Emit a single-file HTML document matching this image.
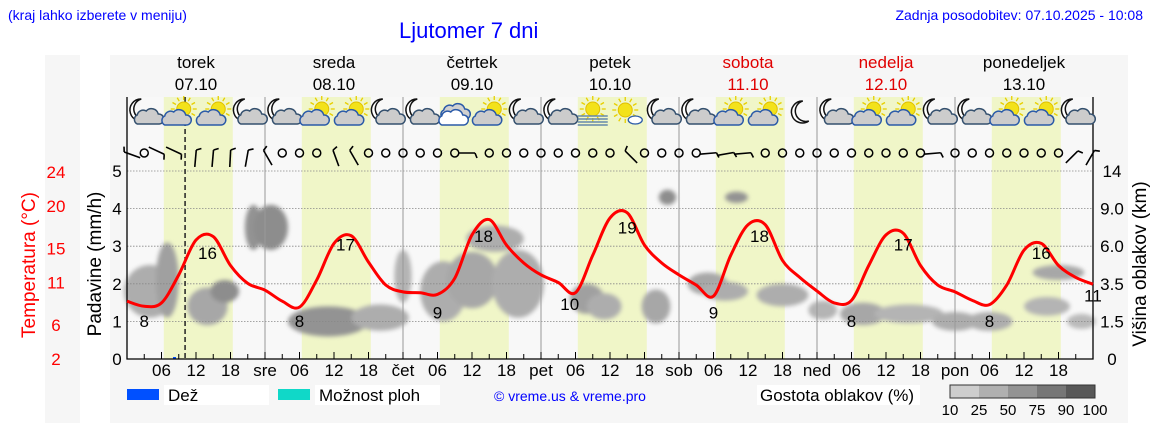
<!DOCTYPE html>
<html><head><meta charset="utf-8"><style>
body{margin:0;background:#fff;width:1152px;height:443px;overflow:hidden;font-family:"Liberation Sans","DejaVu Sans",sans-serif}
svg{display:block}
</style></head><body>
<svg id="c" width="1152" height="443" xmlns="http://www.w3.org/2000/svg">
<defs><filter id="bl" x="-50%" y="-50%" width="200%" height="200%"><feGaussianBlur stdDeviation="2.2"/></filter></defs>
<rect x="45" y="55" width="35" height="368" fill="#f6f6f6"/>
<rect x="110" y="55" width="1018" height="368" fill="#f6f6f6"/>
<text x="8" y="20" font-size="14" fill="#0000ff">(kraj lahko izberete v meniju)</text>
<text x="399" y="38" font-size="22" fill="#0000ff">Ljutomer 7 dni</text>
<text x="1143" y="20" font-size="14" fill="#0000ff" text-anchor="end">Zadnja posodobitev: 07.10.2025 - 10:08</text>
<g id="g"></g>
</svg>
<script>
const dayNames=["torek","sreda","četrtek","petek","sobota","nedelja","ponedeljek"];
const dayDates=["07.10","08.10","09.10","10.10","11.10","12.10","13.10"];
const dayAbbr=["","sre","čet","pet","sob","ned","pon"];
const weekend=[false,false,false,false,true,true,false];
const tempHours=[0,3,6,9,12,15,18,21,24,27,30,33,36,39,42,45,48,51,54,57,60,63,66,69,72,75,78,81,84,87,90,93,96,99,102,105,108,111,114,117,120,123,126,129,132,135,138,141,144,147,150,153,156,159,162,165,168];
const tempValues=[8.8,8.2,8.6,11.9,16,16.4,13,10.9,10.1,8.8,8.1,11.3,15.6,16.5,13.4,10.7,9.9,9.8,9.6,11.5,16.6,18.4,15.4,13.3,11.9,11,9.8,14.2,18.6,19.2,15.4,13.3,11.9,10.7,9.4,14.2,17.8,17.8,13.6,11.6,10,8.6,8.9,13,16.6,16.8,13,10.7,9.9,8.9,8.4,10.7,14.8,15.6,13,11.6,10.8];
const labelHours=[3,14,30,38,54,62,77,87,102,110,126,135,150,159,168];
const labelValues=[8,16,8,17,9,18,10,19,9,18,8,17,8,16,11];
const iconTypes=["nc","sc","sc","nc","nc","sc","sc","nc","nc","cw","sc","nc","nc","fog","ss","nc","nc","sc","sc","m","nc","sc","sc","nc","nc","sc","sc","nc"];
const windAngles=[-70,null,115,115,5,5,3,10,-30,null,null,null,-20,-30,null,null,null,null,null,null,90,null,null,null,null,null,null,null,null,-45,null,null,null,null,85,80,85,null,null,null,null,null,null,null,null,null,null,85,null,null,null,null,null,null,null,45,30];
// clouds: hour, mm center, hour width, mm height, density %
const cloudH=[4,7,14,17,22,25,35,44,48,55,60,64,68,80,83,92,94,101,104,106,114,121,128,136,144,150,160,162,166];
const cloudMM=[1.8,2.1,1.4,1.8,3.5,3.5,1.0,1.1,2.2,1.8,2.1,3.2,2.0,1.6,1.4,1.4,4.3,2.0,1.8,4.3,1.7,1.3,1.2,1.2,1.0,1.0,1.4,2.3,1.0];
const cloudW=[9,4,7,5,3,6,14,10,3,8,9,10,9,6,6,5,3,7,8,4,9,5,8,12,8,8,8,9,5];
const cloudHt=[1.4,2.0,1.0,0.6,1.2,1.2,0.8,0.7,1.4,1.6,1.5,0.7,1.8,0.8,0.7,0.9,0.4,0.6,0.5,0.3,0.6,0.5,0.6,0.5,0.5,0.5,0.5,0.4,0.4];
const cloudD=[40,50,45,65,60,65,60,40,35,40,45,40,40,50,40,45,65,45,40,60,40,35,45,35,40,40,35,45,30];

const X0=127,X1=1093,YT=97,YB=359,PH=5.75;
const x=h=>X0+h*PH;
const ymm=v=>YB-v*37.6;
const yT=t=>YB-(t-2)*8.5;
const g=document.getElementById('g');
const NS='http://www.w3.org/2000/svg';
function mk(tag,at,parent){const e=document.createElementNS(NS,tag);for(const k in at)e.setAttribute(k,at[k]);(parent||g).appendChild(e);return e;}

const bg=mk('rect',{x:X0,y:YT,width:X1-X0,height:YB-YT,fill:'#f8f8f8'});


for(let d=0;d<7;d++){
  const b=mk('rect',{x:x(d*24+6.4),y:YT,width:12*PH,height:YB-YT,fill:'#f0f6c8'});
  
  
}
const cg=mk('g',{filter:'url(#bl)'});
for(let i=0;i<cloudH.length;i++){
  const v=Math.round(225-cloudD[i]*1.3);
  const e=mk('ellipse',{cx:x(cloudH[i]),cy:ymm(cloudMM[i]),rx:cloudW[i]*PH/2,ry:cloudHt[i]*37.6/2,fill:`rgb(${v},${v},${v})`},cg);
  
  
}
for(let v=1;v<=5;v++){
  const l=mk('line',{x1:X0,x2:X1,y1:ymm(v),y2:ymm(v),stroke:'#888','stroke-width':0.8,'stroke-dasharray':'1.5,1.5'});
  
  
}
for(let d=1;d<7;d++){
  const l=mk('line',{x1:x(d*24),x2:x(d*24),y1:YT,y2:YB,stroke:'#999','stroke-width':1});
  
  
}
const now=mk('line',{x1:x(10.1),x2:x(10.1),y1:YT,y2:YB,stroke:'#222','stroke-width':1.5,'stroke-dasharray':'5,3'});


const rain=mk('rect',{x:x(8),y:YB-2,width:3,height:2,fill:'#0050ff'});


const fr=mk('path',{d:`M${X0} ${YT}V${YB}H${X1}V${YT}`,fill:'none',stroke:'#000','stroke-width':1.3});


for(let h=3;h<168;h+=3){
  const t=mk('line',{x1:x(h),x2:x(h),y1:YB,y2:YB-(h%6==0?7:5),stroke:'#000','stroke-width':1});
  
  
}
for(let d=0;d<7;d++){
  const labs=[[0,dayAbbr[d]],[6,'06'],[12,'12'],[18,'18']];
  for(const [h,s] of labs){ if(!s)continue;
    const t=mk('text',{x:x(d*24+h),y:376,'font-size':17,'text-anchor':'middle',fill:'#000'});t.textContent=s;
    
    
  }
  const c=x(d*24+12);
  const n=mk('text',{x:c,y:68,'font-size':17,'text-anchor':'middle',fill:weekend[d]?'#e00000':'#000'});n.textContent=dayNames[d];
  
  
  const dt=mk('text',{x:c,y:90,'font-size':17,'text-anchor':'middle',fill:weekend[d]?'#e00000':'#000'});dt.textContent=dayDates[d];
  
  
}
for(let v=0;v<=5;v++){
  const t=mk('text',{x:117,y:ymm(v)+6,'font-size':17,'text-anchor':'middle',fill:'#000'});t.textContent=v;
  
  
}
const ya=mk('text',{x:0,y:0,'font-size':19,'text-anchor':'middle',transform:'translate(101,264) rotate(-90)'});ya.textContent='Padavine (mm/h)';


const tTicks=[2,6,11,15,20,24];
for(const t of tTicks){
  const e=mk('text',{x:56,y:yT(t)+6,'font-size':17,'text-anchor':'middle',fill:'#ff0000'});e.textContent=t;
  
  
}
const ta=mk('text',{x:0,y:0,'font-size':19,'text-anchor':'middle',fill:'#ff0000',transform:'translate(35,265) rotate(-90)'});ta.textContent='Temperatura (°C)';


const rTicks=["0","1.5","3.5","6.0","9.0","14"];
rTicks.forEach((s,i)=>{
  const e=mk('text',{x:1112,y:ymm(i)+6,'font-size':17,'text-anchor':'middle'});e.textContent=s;
  
  
});
const ra=mk('text',{x:0,y:0,'font-size':19,'text-anchor':'middle',transform:'translate(1146,264) rotate(-90)'});ra.textContent='Višina oblakov (km)';


const pts=tempHours.map((h,i)=>[x(h),yT(tempValues[i])]);
let d='M'+pts[0][0]+' '+pts[0][1];
for(let i=0;i<pts.length-1;i++){
  const p0=pts[Math.max(0,i-1)],p1=pts[i],p2=pts[i+1],p3=pts[Math.min(pts.length-1,i+2)];
  d+=` C${p1[0]+(p2[0]-p0[0])/6} ${p1[1]+(p2[1]-p0[1])/6},${p2[0]-(p3[0]-p1[0])/6} ${p2[1]-(p3[1]-p1[1])/6},${p2[0]} ${p2[1]}`;
}
const tl=mk('path',{d,fill:'none',stroke:'#ff0000','stroke-width':3,'stroke-linejoin':'round'});


labelHours.forEach((h,i)=>{
  const e=mk('text',{x:x(h),y:yT(labelValues[i])+19,'font-size':17,'text-anchor':'middle'});e.textContent=labelValues[i];
  
  
});
windAngles.forEach((a,i)=>{
  const cx=x(i*3),cy=153;
  if(a===null){
    const c=mk('circle',{cx,cy,r:4,fill:'none',stroke:'#000','stroke-width':1.5});
    
    
  } else {
    const w=mk('g',{transform:`translate(${cx},${cy}) rotate(${a})`});
    
    
    mk('line',{x1:0,y1:-3,x2:0,y2:14,stroke:'#000','stroke-width':1.6},w);
    mk('line',{x1:0,y1:-3,x2:5,y2:-5,stroke:'#000','stroke-width':1.6},w);
  }
});
function cloud(p,cx,cy,fill,stroke){
  mk('path',{d:`M${cx-11} ${cy+8}a5 5 0 0 1 0-9a6 6 0 0 1 9-4a7 7 0 0 1 12 3a5 5 0 0 1 1 10z`,fill,stroke,'stroke-width':1.5},p);
}
function sun(p,cx,cy,r){
  for(let k=0;k<12;k++){const a=k*Math.PI/6;mk('line',{x1:cx+Math.cos(a)*(r+2),y1:cy+Math.sin(a)*(r+2),x2:cx+Math.cos(a)*(r+6),y2:cy+Math.sin(a)*(r+6),stroke:'#e8d000','stroke-width':1.3},p);}
  mk('circle',{cx,cy,r,fill:'#f3e21a',stroke:'#e0c000'},p);
}
function moon(p,cx,cy){
  mk('path',{d:`M${cx+3} ${cy-12}a11 11 0 1 0 6 20a9 9 0 0 1-6-20z`,fill:'#fff',stroke:'#111','stroke-width':1.5},p);
}
iconTypes.forEach((t,i)=>{
  const cx=x(i*6+3),cy=113;
  const p=mk('g',{});
  
  
  if(t==='nc'){moon(p,cx-6,cy-2);cloud(p,cx+4,cy+3,'#ccc','#34506e');}
  else if(t==='sc'){sun(p,cx+5,cy-4,7);cloud(p,cx-3,cy+4,'#ccc','#2a5aa8');}
  else if(t==='cw'){cloud(p,cx,cy-2,'#d0d0d0','#2a5aa8');cloud(p,cx-2,cy+4,'#fff','#2a5aa8');}
  else if(t==='fog'){sun(p,cx,cy-4,7);for(let k=0;k<4;k++)mk('line',{x1:cx-15,x2:cx+15,y1:cy+3+k*3,y2:cy+3+k*3,stroke:'#6688aa','stroke-width':1.6},p);}
  else if(t==='ss'){sun(p,cx-2,cy-3,7);mk('ellipse',{cx:cx+8,cy:cy+7,rx:7,ry:4,fill:'#fff',stroke:'#2a5aa8','stroke-width':1.3},p);}
  else if(t==='m'){moon(p,cx,cy);}
});
const L=[[127,'#0050ff','Dež',168,'legend-rain'],[278,'#10d8c8','Možnost ploh',319,'legend-showers']];
for(const [lx,col,txt,tx,nm] of L){
  const r=mk('rect',{x:lx,y:389,width:32,height:11,fill:col});
  
  
  const w=mk('rect',{x:tx-4,y:385,width:txt.length>5?125:105,height:20,fill:'#fff'});
  
  
  const t=mk('text',{x:tx,y:401,'font-size':17});t.textContent=txt;
  
  
}
const cp=mk('text',{x:570,y:401,'font-size':14,fill:'#0000ff','text-anchor':'middle'});cp.textContent='© vreme.us & vreme.pro';


const gb=mk('rect',{x:757,y:385,width:163,height:20,fill:'#fff'});


const gl=mk('text',{x:760,y:401,'font-size':17});gl.textContent='Gostota oblakov (%)';


const densCols=['#cdcdcd','#b0b0b0','#939393','#767676','#585858'];
densCols.forEach((c,i)=>{
  const r=mk('rect',{x:950+i*29,y:385,width:29,height:13,fill:c});
  
  
});
mk('rect',{x:950,y:385,width:145,height:13,fill:'none',stroke:'#333'});
const densLabels=['10','25','50','75','90','100'];
densLabels.forEach((s,i)=>{
  const t=mk('text',{x:950+i*29,y:415,'font-size':15,'text-anchor':'middle'});t.textContent=s;
  
  
});
</script>
</body></html>
